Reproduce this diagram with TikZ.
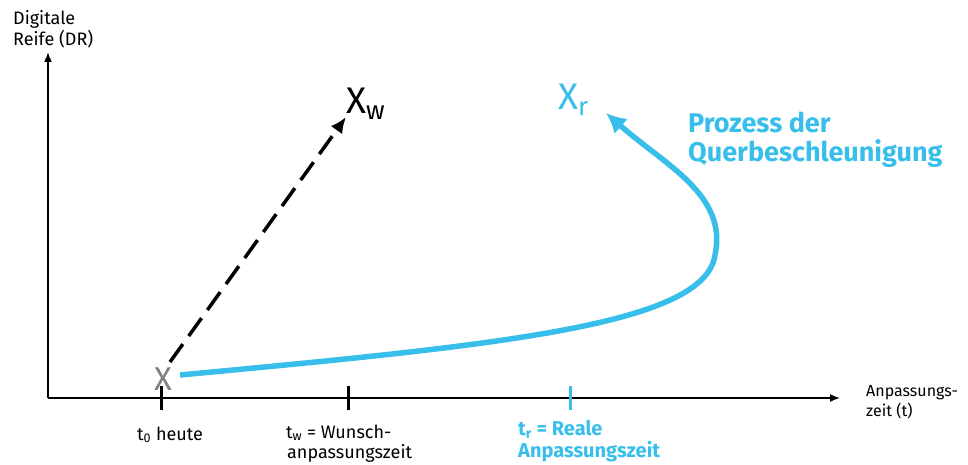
\documentclass[tikz,border=0pt]{standalone}
\usepackage{fontspec}
\setmainfont{Fira Sans}
\usetikzlibrary{arrows.meta}
\definecolor{cblue}{RGB}{56,190,235}
\definecolor{xgray}{RGB}{128,128,128}
\tikzset{
  axis/.style={line width=1.6pt,-{Latex[length=10pt,width=8pt]}},
  tick/.style={line width=3pt},
  lbl/.style={font=\fontsize{18}{20}\selectfont,anchor=base west,inner sep=0pt},
  blbl/.style={font=\fontsize{20}{22}\selectfont\bfseries,text=cblue,anchor=base west,inner sep=0pt},
  plbl/.style={font=\fontsize{27}{30}\selectfont\bfseries,text=cblue,anchor=base west,inner sep=0pt},
  big/.style={font=\fontsize{37}{37}\selectfont,inner sep=0pt,anchor=base west},
}
\begin{document}
\begin{tikzpicture}[x=1pt,y=-1pt]
\useasboundingbox (0,0) rectangle (968,465);
\coordinate (O) at (48,398);
\coordinate (xend) at (840,398);
\coordinate (yend) at (48,52);
\draw[axis] (O) -- (xend);
\draw[axis] (O) -- (yend);
\node[lbl] (dr1) at (13,25) {Digitale};
\node[lbl] (dr2) at (13,46) {Reife (DR)};
\node[lbl,font=\fontsize{16}{18}\selectfont] (t1) at (866,396) {Anpassungs-};
\node[lbl,font=\fontsize{16}{18}\selectfont] (t2) at (866,416) {zeit (t)};
% ticks
\coordinate (t0a) at (161,386); \coordinate (t0b) at (161,410);
\coordinate (twa) at (348,386); \coordinate (twb) at (348,410);
\coordinate (tra) at (570,386); \coordinate (trb) at (570,410);
\draw[tick] (t0a) -- (t0b);
\draw[tick] (twa) -- (twb);
\draw[tick,cblue] (tra) -- (trb);
\node[lbl] (l0) at (137,440) {t\textsubscript{0} heute};
\node[lbl] (lw1) at (286,438) {t\textsubscript{w} = Wunsch-};
\node[lbl] (lw2) at (287,458) {anpassungszeit};
\node[blbl] (lr1) at (518,435) {t\textsubscript{r} = Reale};
\node[blbl] (lr2) at (518,457) {Anpassungszeit};
% points
\node[big,text=xgray,anchor=base,font=\fontsize{33}{33}\selectfont] (x0) at (163,390) {X};
\node[big] (xw) at (346,114) {X\textsubscript{w}};
\node[big,text=cblue] (xr) at (558,110) {X\textsubscript{r}};
\coordinate (dstart) at (170,362);
\coordinate (dend) at (346,117);
\draw[line width=3.5pt,dash pattern=on 22pt off 10pt,-{Latex[length=16pt,width=14pt]}] (dstart) -- (dend);
\coordinate (bstart) at (180,375);
\coordinate (bmid) at (715,255);
\coordinate (bend) at (606,113);
\draw[cblue,line width=5.5pt,-{Latex[length=20pt,width=20pt]}] (bstart) .. controls (500,345) and (705,325) .. (bmid) .. controls (728,195) and (665,165) .. (bend);
\node[plbl] (p1) at (688,133) {Prozess der};
\node[plbl] (p2) at (688,161) {Querbeschleunigung};
\end{tikzpicture}
\end{document}
